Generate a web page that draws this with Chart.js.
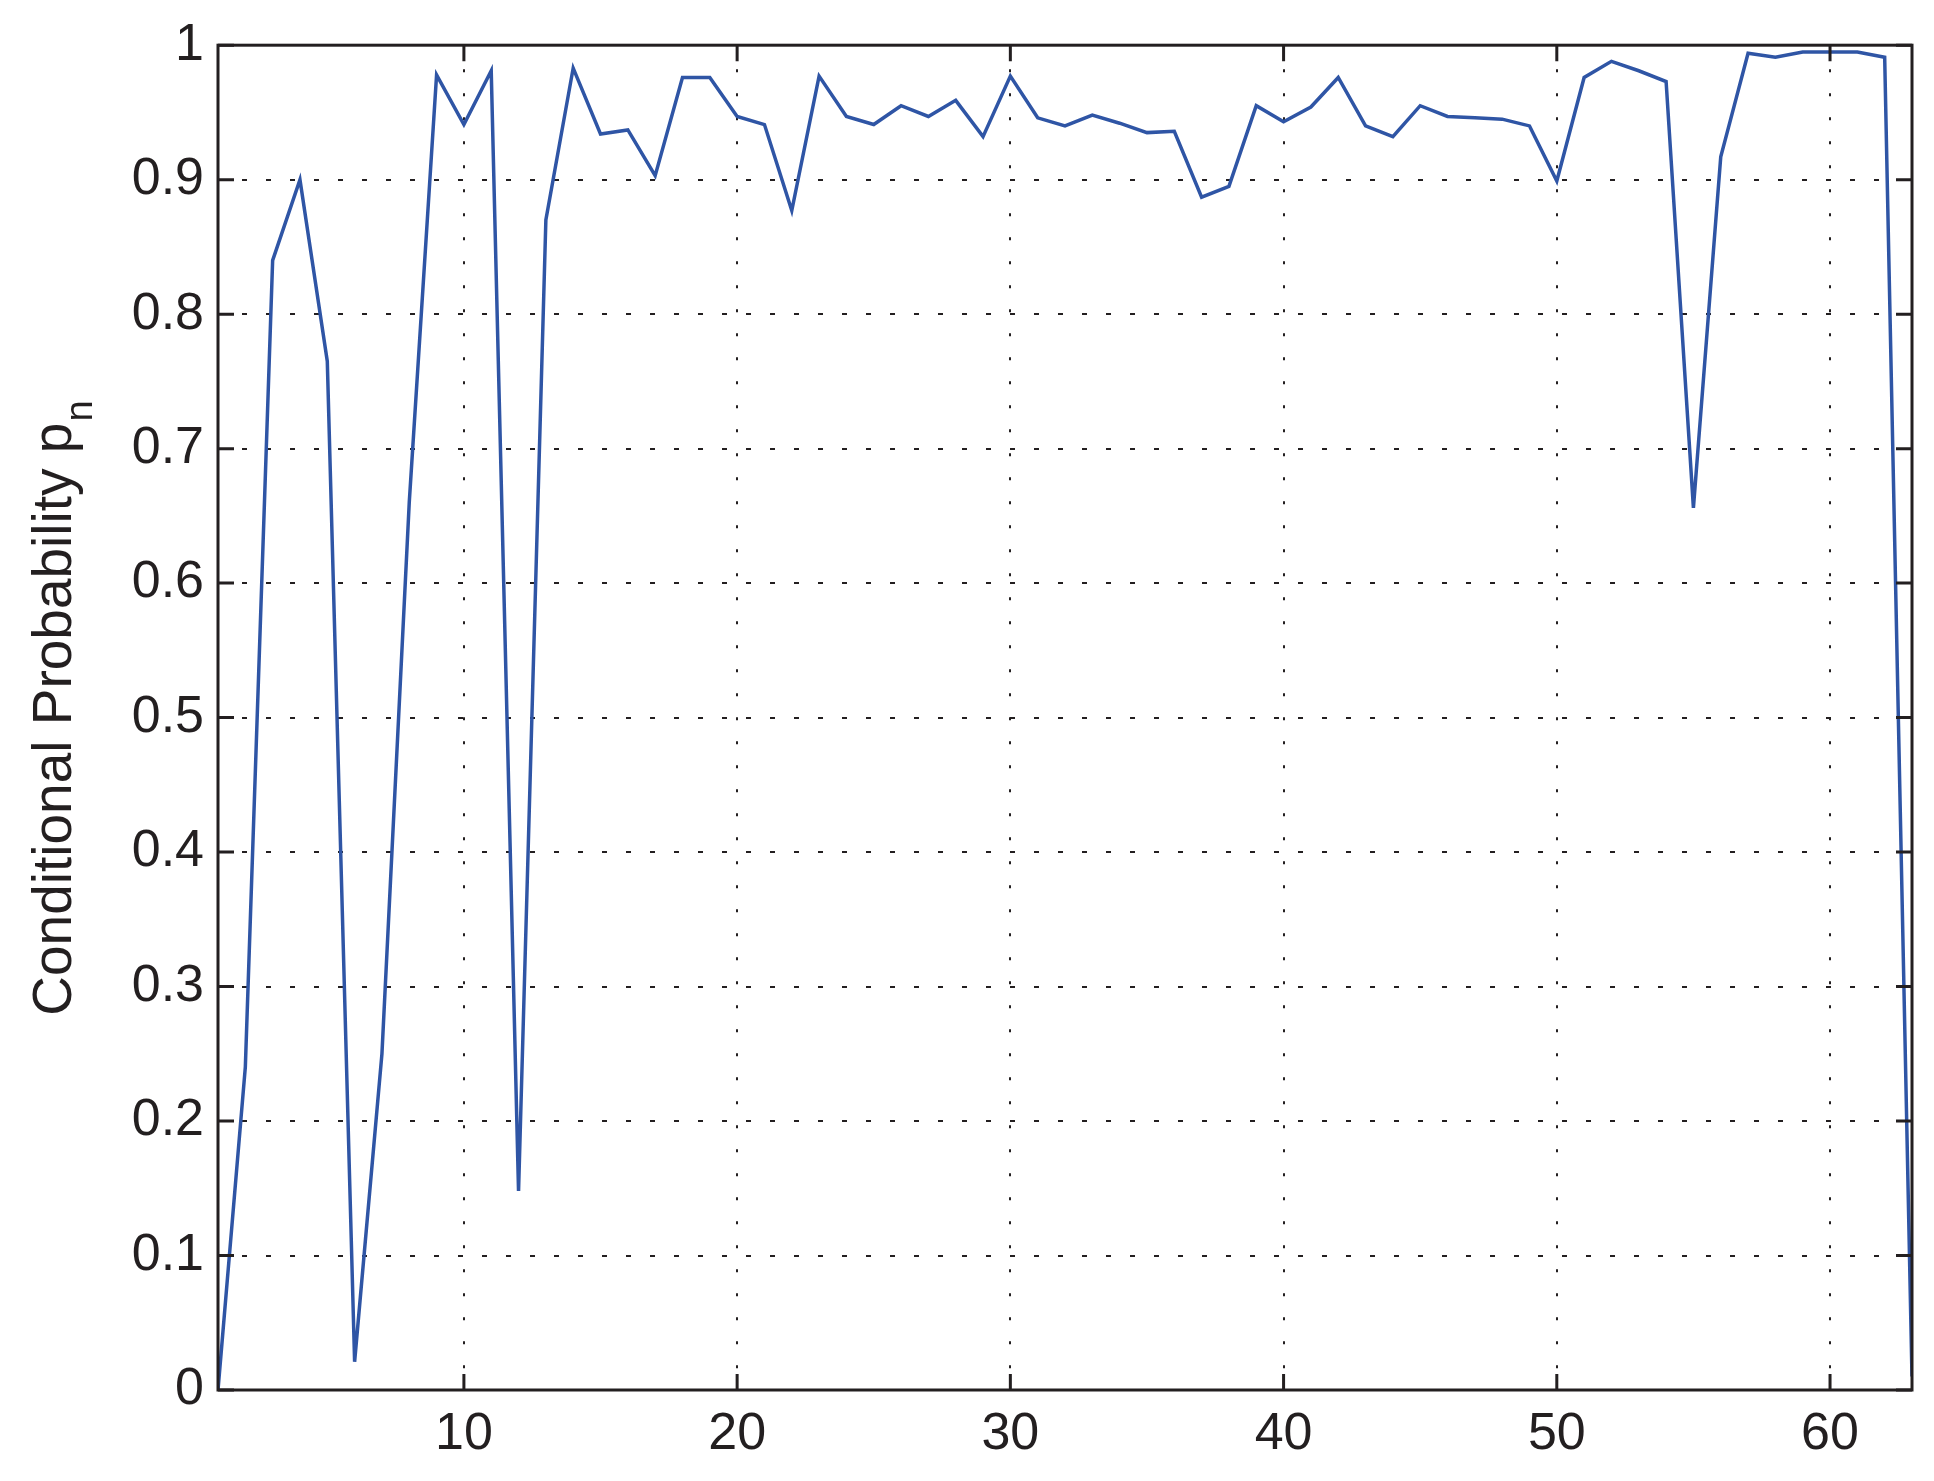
<!DOCTYPE html>
<html>
<head>
<meta charset="utf-8">
<script src="https://cdn.jsdelivr.net/npm/chart.js@4/dist/chart.umd.min.js"></script>
<style>
  html, body { margin: 0; padding: 0; background: #ffffff; }
  #wrap { width: 1934px; height: 1481px; position: relative; }
</style>
</head>
<body>
<div id="wrap"><canvas id="c"></canvas></div>
<script>
// ---- data ----
const nValues = [1,2,3,4,5,6,7,8,9,10,11,12,13,14,15,16,17,18,19,20,21,22,23,24,25,26,27,28,29,30,31,32,33,34,35,36,37,38,39,40,41,42,43,44,45,46,47,48,49,50,51,52,53,54,55,56,57,58,59,60,61,62,63];
const probValues = [0.0,0.24,0.84,0.90,0.765,0.021,0.25,0.66,0.978,0.941,
  0.981,0.148,0.870,0.983,0.934,0.937,0.903,0.976,0.976,0.947,
  0.941,0.877,0.977,0.947,0.941,0.955,0.947,0.959,0.932,0.977,
  0.946,0.940,0.948,0.942,0.935,0.936,0.887,0.895,0.955,0.943,
  0.954,0.976,0.940,0.932,0.955,0.947,0.946,0.945,0.940,0.899,
  0.976,0.988,0.981,0.973,0.656,0.917,0.994,0.991,0.995,0.995,
  0.995,0.991,0.01];
const xTickValues = [10,20,30,40,50,60];
const xTickLabels = ['10','20','30','40','50','60'];
const yTickValues = [0,0.1,0.2,0.3,0.4,0.5,0.6,0.7,0.8,0.9,1];
const yTickLabels = ['0','0.1','0.2','0.3','0.4','0.5','0.6','0.7','0.8','0.9','1'];
const yTitleMain = 'Conditional Probability p';
const yTitleSub = 'n';

const INK = '#231f20';
const FONT = '"Liberation Sans", Arial, Helvetica, sans-serif';

const points = nValues.map((n, i) => ({ x: n, y: probValues[i] }));

const framePlugin = {
  id: 'frame',
  afterDraw(chart) {
    const { ctx, chartArea, scales } = chart;
    const { left, right, top, bottom } = chartArea;
    const xs = scales.x, ys = scales.y;
    const tl = 16;
    ctx.save();
    ctx.strokeStyle = INK;
    ctx.lineWidth = 3;
    ctx.setLineDash([]);
    ctx.beginPath();
    xs.ticks.forEach(t => {
      const px = xs.getPixelForValue(t.value);
      ctx.moveTo(px, bottom); ctx.lineTo(px, bottom - tl);
      ctx.moveTo(px, top); ctx.lineTo(px, top + tl);
    });
    ys.ticks.forEach(t => {
      const py = ys.getPixelForValue(t.value);
      ctx.moveTo(left, py); ctx.lineTo(left + tl, py);
      ctx.moveTo(right, py); ctx.lineTo(right - tl, py);
    });
    ctx.stroke();
    ctx.strokeRect(left, top, right - left, bottom - top);

    // y-axis title with subscript
    ctx.fillStyle = INK;
    const cy = (top + bottom) / 2 - 9;
    ctx.translate(71, cy);
    ctx.rotate(-Math.PI / 2);
    ctx.textBaseline = 'alphabetic';
    ctx.textAlign = 'left';
    ctx.font = '55px ' + FONT;
    const w1 = ctx.measureText(yTitleMain).width;
    ctx.font = '38px ' + FONT;
    const w2 = ctx.measureText(yTitleSub).width;
    const start = -(w1 + w2) / 2;
    ctx.font = '55px ' + FONT;
    ctx.fillText(yTitleMain, start, 0);
    ctx.font = '38px ' + FONT;
    ctx.fillText(yTitleSub, start + w1 + 1, 21);
    ctx.restore();
  }
};

Chart.defaults.font.family = FONT;
Chart.defaults.font.size = 52;
Chart.defaults.color = INK;

new Chart(document.getElementById('c'), {
  type: 'line',
  data: {
    datasets: [{
      data: points,
      borderColor: '#2f55a5',
      borderWidth: 3.5,
      pointRadius: 0,
      fill: false,
      tension: 0
    }]
  },
  options: {
    responsive: true,
    maintainAspectRatio: false,
    animation: false,
    plugins: { legend: { display: false }, tooltip: { enabled: false } },
    layout: { padding: { top: 44, right: 22, bottom: 0, left: 0 } },
    scales: {
      x: {
        type: 'linear',
        min: 1,
        max: 63,
        afterBuildTicks: s => { s.ticks = xTickValues.map(v => ({ value: v })); },
        afterFit: s => { s.height = 91; },
        ticks: {
          padding: 13,
          maxRotation: 0,
          autoSkip: false,
          callback: (v, i) => xTickLabels[i],
          font: { size: 52 }
        },
        grid: { color: INK, lineWidth: 2, drawTicks: false },
        border: { display: false, dash: [3, 21] }
      },
      y: {
        type: 'linear',
        min: 0,
        max: 1,
        afterBuildTicks: s => { s.ticks = yTickValues.map(v => ({ value: v })); },
        afterFit: s => { s.width = 218; },
        ticks: {
          padding: 14,
          autoSkip: false,
          callback: (v, i) => yTickLabels[i],
          font: { size: 52 }
        },
        grid: { color: INK, lineWidth: 2, drawTicks: false },
        border: { display: false, dash: [5, 19] }
      }
    }
  },
  plugins: [framePlugin]
});
</script>
</body>
</html>
